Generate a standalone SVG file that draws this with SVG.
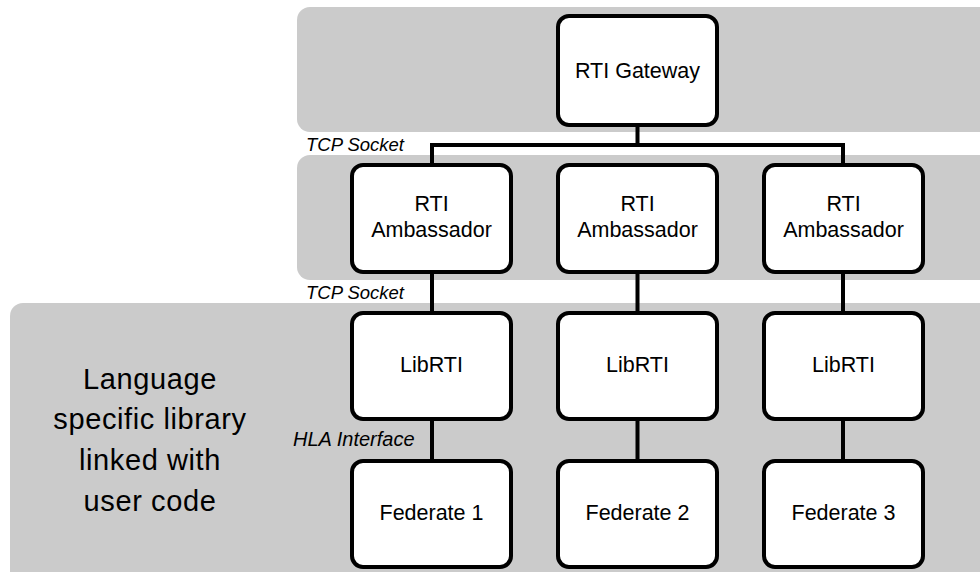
<svg xmlns="http://www.w3.org/2000/svg" width="980" height="572" viewBox="0 0 980 572">
<style>
.band{fill:#cbcbcb;}
.box{fill:#fff;stroke:#000;stroke-width:4;}
.t{font-family:"Liberation Sans",Arial,sans-serif;font-size:21.5px;fill:#000;text-anchor:middle;}
.big{font-family:"Liberation Sans",Arial,sans-serif;font-size:29px;letter-spacing:0.6px;fill:#000;text-anchor:middle;}
.lbl{font-family:"Liberation Sans",Arial,sans-serif;font-size:18.5px;font-style:italic;fill:#000;}
.conn{stroke:#000;stroke-width:4;fill:none;}
</style>
<g id="bands">
<rect class="band" x="297" y="7" width="700" height="125" rx="13"/>
<rect class="band" x="297" y="155" width="700" height="125" rx="13"/>
<rect class="band" x="10" y="303" width="990" height="290" rx="13"/>
</g>
<g id="connectors">
<path class="conn" d="M637.5 125 V145 M432 145 H843 M432 143 V165 M843 143 V165"/>
<path class="conn" d="M432 272 V313 M637.5 272 V313 M843 272 V313"/>
<path class="conn" d="M432 419 V461 M637.5 419 V461 M843 419 V461"/>
</g>
<g id="gateway"><rect class="box" x="558" y="16" width="159" height="109" rx="11"/><text class="t" x="637.5" y="78">RTI Gateway</text></g>
<g id="amb1"><rect class="box" x="352" y="165" width="159" height="107" rx="11"/><text class="t" x="431.5" y="211">RTI</text><text class="t" x="431.5" y="237">Ambassador</text></g>
<g id="amb2"><rect class="box" x="558" y="165" width="159" height="107" rx="11"/><text class="t" x="637.5" y="211">RTI</text><text class="t" x="637.5" y="237">Ambassador</text></g>
<g id="amb3"><rect class="box" x="764" y="165" width="159" height="107" rx="11"/><text class="t" x="843.5" y="211">RTI</text><text class="t" x="843.5" y="237">Ambassador</text></g>
<g id="lib1"><rect class="box" x="352" y="313" width="159" height="106" rx="11"/><text class="t" x="431.5" y="372">LibRTI</text></g>
<g id="lib2"><rect class="box" x="558" y="313" width="159" height="106" rx="11"/><text class="t" x="637.5" y="372">LibRTI</text></g>
<g id="lib3"><rect class="box" x="764" y="313" width="159" height="106" rx="11"/><text class="t" x="843.5" y="372">LibRTI</text></g>
<g id="fed1"><rect class="box" x="352" y="461" width="159" height="106" rx="11"/><text class="t" x="431.5" y="520">Federate 1</text></g>
<g id="fed2"><rect class="box" x="558" y="461" width="159" height="106" rx="11"/><text class="t" x="637.5" y="520">Federate 2</text></g>
<g id="fed3"><rect class="box" x="764" y="461" width="159" height="106" rx="11"/><text class="t" x="843.5" y="520">Federate 3</text></g>
<g id="labels">
<text class="lbl" x="306" y="151">TCP Socket</text>
<text class="lbl" x="306" y="299">TCP Socket</text>
<text class="lbl" x="293" y="446" style="font-size:20px">HLA Interface</text>
<text class="big" x="150" y="389">Language</text>
<text class="big" x="150" y="429">specific library</text>
<text class="big" x="150" y="470">linked with</text>
<text class="big" x="150" y="511">user code</text>
</g>
</svg>
